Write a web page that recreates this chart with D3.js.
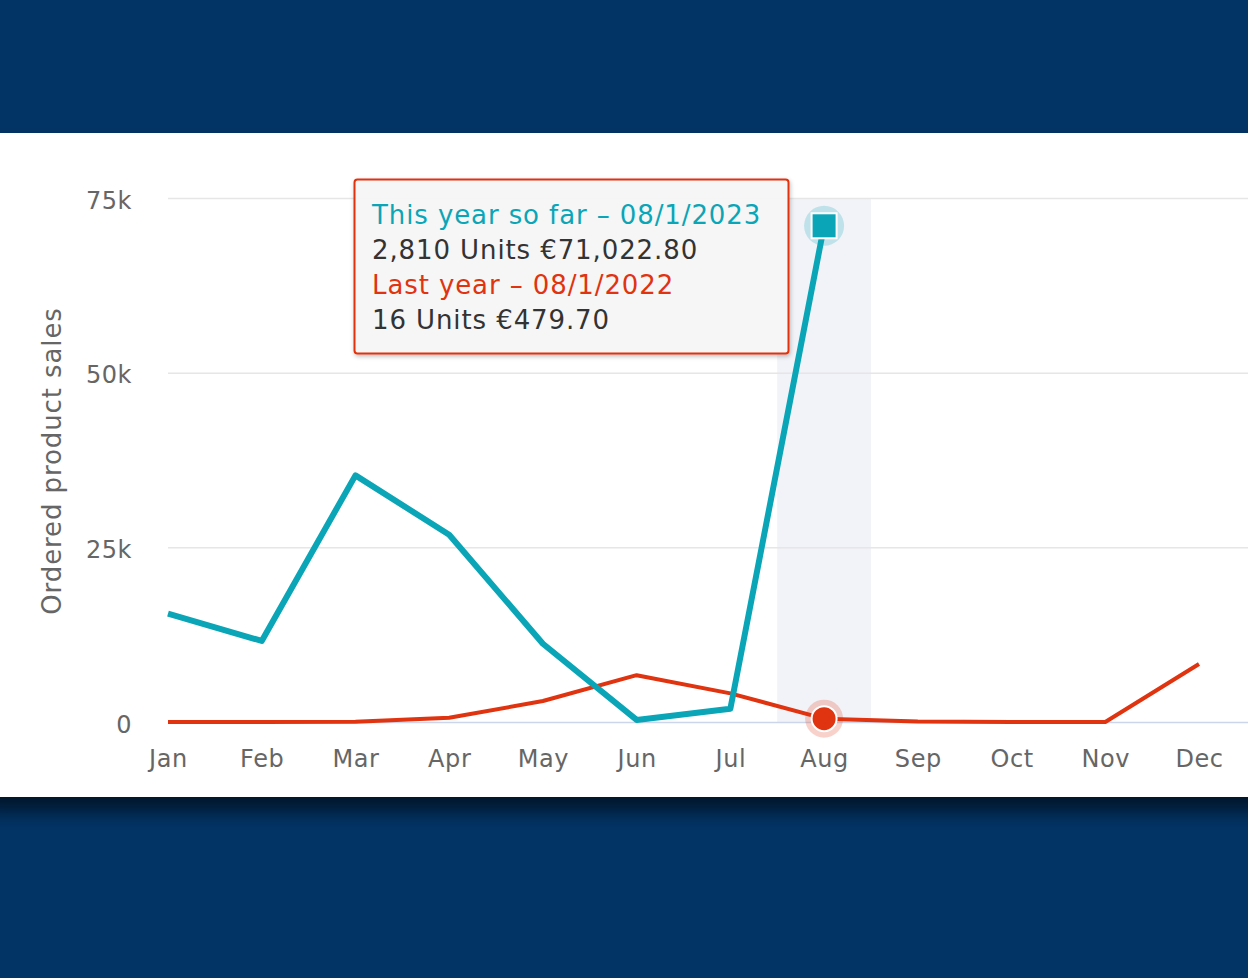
<!DOCTYPE html>
<html><head><meta charset="utf-8">
<script src="https://cdn.jsdelivr.net/npm/d3@7/dist/d3.min.js"></script>
<style>
html,body{margin:0;padding:0;background:#023466;}
svg{display:block;}
</style></head>
<body>
<svg id="c" width="1248" height="978"></svg>
<script>
const months = ["Jan","Feb","Mar","Apr","May","Jun","Jul","Aug","Sep","Oct","Nov","Dec"];
const thisYear = [15500, 11600, 35300, 26800, 11200, 300, 1900, 71022.8];
const lastYear = [0, 0, 50, 600, 3000, 6700, 4100, 479.7, 80, 0, 0, 8300];
const yTicks = [0, 25000, 50000, 75000];
const yTickLabels = ["0", "25k", "50k", "75k"];
const tooltipLines = [
  {text: "This year so far – 08/1/2023", kind: "this"},
  {text: "2,810 Units €71,022.80", kind: "val"},
  {text: "Last year – 08/1/2022", kind: "last"},
  {text: "16 Units €479.70", kind: "val"}
];
const highlightIndex = 7;

const svg = d3.select("#c");
const W = 1248, H = 978;
const font = "'DejaVu Sans', 'Open Sans', sans-serif";
const teal = "#0aa5b7", red = "#e0330f";

const defs = svg.append("defs");
const f = defs.append("filter").attr("id","panelShadow").attr("x","-10%").attr("y","-10%").attr("width","120%").attr("height","130%");
f.append("feDropShadow").attr("dx",0).attr("dy",14).attr("stdDeviation",10).attr("flood-color","#000").attr("flood-opacity",0.6);
const f2 = defs.append("filter").attr("id","tipShadow").attr("x","-10%").attr("y","-10%").attr("width","120%").attr("height","130%");
f2.append("feDropShadow").attr("dx",1).attr("dy",2).attr("stdDeviation",2).attr("flood-color","#000").attr("flood-opacity",0.25);

svg.append("rect").attr("width",W).attr("height",H).attr("fill","#023466");
svg.append("rect").attr("x",-20).attr("y",133).attr("width",W+40).attr("height",664).attr("fill","#fff").attr("filter","url(#panelShadow)");

const x = d3.scalePoint().domain(months).range([168, 1199]);
const y = d3.scaleLinear().domain([0, 75000]).range([722, 198]);
const step = x.step();

// highlight band
svg.append("rect").attr("x", x(months[highlightIndex]) - step/2).attr("y", y(75000))
  .attr("width", step).attr("height", y(0)-y(75000)).attr("fill","#f2f3f8");

// grid
const gy = svg.append("g").attr("transform","translate(168,0)")
  .call(d3.axisLeft(y).tickValues(yTicks).tickSize(-(W-168)).tickFormat((d,i)=>yTickLabels[i]).tickPadding(36));
gy.select(".domain").remove();
gy.selectAll(".tick line").attr("stroke", d => d===0 ? "#ccd6eb" : "#e6e6e6").attr("stroke-width", 1.5);
gy.selectAll(".tick text").attr("font-family",font).attr("font-size",24).attr("fill","#666").attr("dy","0.42em").attr("letter-spacing",0.5);

// x axis
const gx = svg.append("g").attr("transform","translate(0,722)")
  .call(d3.axisBottom(x).tickSize(0).tickPadding(28));
gx.select(".domain").remove();
gx.selectAll(".tick text").attr("font-family",font).attr("font-size",24).attr("fill","#666").attr("letter-spacing",0.6);

// y label
svg.append("text").attr("transform","translate(61,461) rotate(-90)").attr("text-anchor","middle")
  .attr("font-family",font).attr("font-size",26).attr("letter-spacing",0.9).attr("fill","#666").text("Ordered product sales");

const line = d3.line().x((d,i)=>x(months[i])).y(d=>y(d));
svg.append("path").datum(lastYear).attr("d",line).attr("fill","none").attr("stroke",red).attr("stroke-width",4).attr("stroke-linejoin","round");
svg.append("path").datum(thisYear).attr("d",line).attr("fill","none").attr("stroke",teal).attr("stroke-width",6).attr("stroke-linejoin","round");

// markers
const hx = x(months[highlightIndex]);
svg.append("circle").attr("cx",hx).attr("cy",y(thisYear[highlightIndex])).attr("r",20).attr("fill",teal).attr("fill-opacity",0.22);
svg.append("rect").attr("x",hx-12.5).attr("y",y(thisYear[highlightIndex])-12.5).attr("width",25).attr("height",25)
  .attr("fill",teal).attr("stroke","#fff").attr("stroke-width",2);
svg.append("circle").attr("cx",hx).attr("cy",y(lastYear[highlightIndex])).attr("r",19).attr("fill",red).attr("fill-opacity",0.22);
svg.append("circle").attr("cx",hx).attr("cy",y(lastYear[highlightIndex])).attr("r",12.5).attr("fill",red).attr("stroke","#fff").attr("stroke-width",2);

// tooltip
const tip = svg.append("g");
tip.append("rect").attr("x",354.5).attr("y",179.5).attr("width",434).attr("height",174).attr("rx",3)
  .attr("fill","#f7f7f7").attr("fill-opacity",0.97).attr("stroke",red).attr("stroke-width",2).attr("filter","url(#tipShadow)");
tip.selectAll("text").data(tooltipLines).join("text")
  .attr("x",372).attr("y",(d,i)=>224+i*35)
  .attr("font-family",font).attr("font-size",26).attr("letter-spacing",0.9)
  .attr("fill",d=>d.kind==="this"?teal:d.kind==="last"?red:"#333")
  .text(d=>d.text);
</script>
</body></html>
